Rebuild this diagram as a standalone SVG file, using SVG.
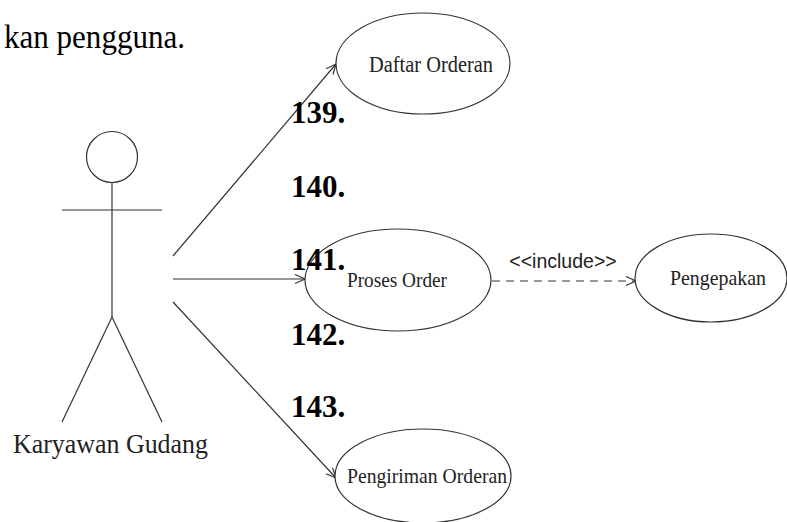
<svg xmlns="http://www.w3.org/2000/svg" width="787" height="522" viewBox="0 0 787 522">
<defs>
<style>
.ln{stroke:#333;stroke-width:1.2;fill:none}
.uc{fill:#fff;stroke:#333;stroke-width:1.2}
.lbl{font-family:"Liberation Serif","Times New Roman",serif;fill:#222}
.num{font-family:"Liberation Serif","Times New Roman",serif;font-weight:bold;font-size:31px;fill:#000}
.st{font-family:"Liberation Sans",Arial,sans-serif;font-size:19.5px;fill:#222;text-anchor:middle}
</style>
<marker id="open" markerUnits="userSpaceOnUse" markerWidth="14" markerHeight="12" refX="11" refY="5" orient="auto">
<path d="M1,0.5 L11,5 L1,9.5" fill="none" stroke="#333" stroke-width="1.2"/>
</marker>
</defs>
<rect width="787" height="522" fill="#fff"/>
<text x="4" y="48" font-family="'Liberation Serif','Times New Roman',serif" font-size="34" fill="#000" textLength="181" lengthAdjust="spacingAndGlyphs">kan pengguna.</text>

<g id="actor">
<circle class="ln" cx="112" cy="157" r="25.5"/>
<line class="ln" x1="112" y1="182.5" x2="112" y2="317"/>
<line class="ln" x1="62" y1="210" x2="162" y2="210"/>
<line class="ln" x1="112" y1="317" x2="62" y2="422"/>
<line class="ln" x1="112" y1="317" x2="162" y2="422"/>
<text class="lbl" x="13" y="453" font-size="27" textLength="195" lengthAdjust="spacingAndGlyphs">Karyawan Gudang</text>
</g>

<g id="connectors">
<line class="ln" x1="173" y1="256" x2="336" y2="64" marker-end="url(#open)"/>
<line class="ln" x1="173" y1="279" x2="305" y2="279" marker-end="url(#open)"/>
<line class="ln" x1="173" y1="302" x2="336" y2="478" marker-end="url(#open)"/>
<line class="ln" x1="492" y1="281" x2="636" y2="281" stroke-dasharray="8,6" marker-end="url(#open)"/>
<text class="st" x="563" y="268">&lt;&lt;include&gt;&gt;</text>
</g>

<g id="daftar">
<ellipse class="uc" cx="423" cy="63.5" rx="87" ry="50.5"/>
<text class="lbl" x="369" y="72" font-size="23" textLength="124" lengthAdjust="spacingAndGlyphs">Daftar Orderan</text>
</g>
<g id="proses">
<ellipse class="uc" cx="398" cy="280" rx="93" ry="51"/>
<text class="lbl" x="347" y="287" font-size="22" textLength="100" lengthAdjust="spacingAndGlyphs">Proses Order</text>
</g>
<g id="pengepakan">
<ellipse class="uc" cx="711" cy="278" rx="76" ry="44"/>
<text class="lbl" x="670" y="285" font-size="22" textLength="96" lengthAdjust="spacingAndGlyphs">Pengepakan</text>
</g>
<g id="pengiriman">
<ellipse class="uc" cx="423" cy="476" rx="88" ry="47"/>
<text class="lbl" x="347" y="483" font-size="21" textLength="160" lengthAdjust="spacingAndGlyphs">Pengiriman Orderan</text>
</g>

<g id="numbers">
<text class="num" x="291" y="123">139.</text>
<text class="num" x="291" y="197">140.</text>
<text class="num" x="291" y="270">141.</text>
<text class="num" x="291" y="345">142.</text>
<text class="num" x="291" y="417">143.</text>
</g>
</svg>
